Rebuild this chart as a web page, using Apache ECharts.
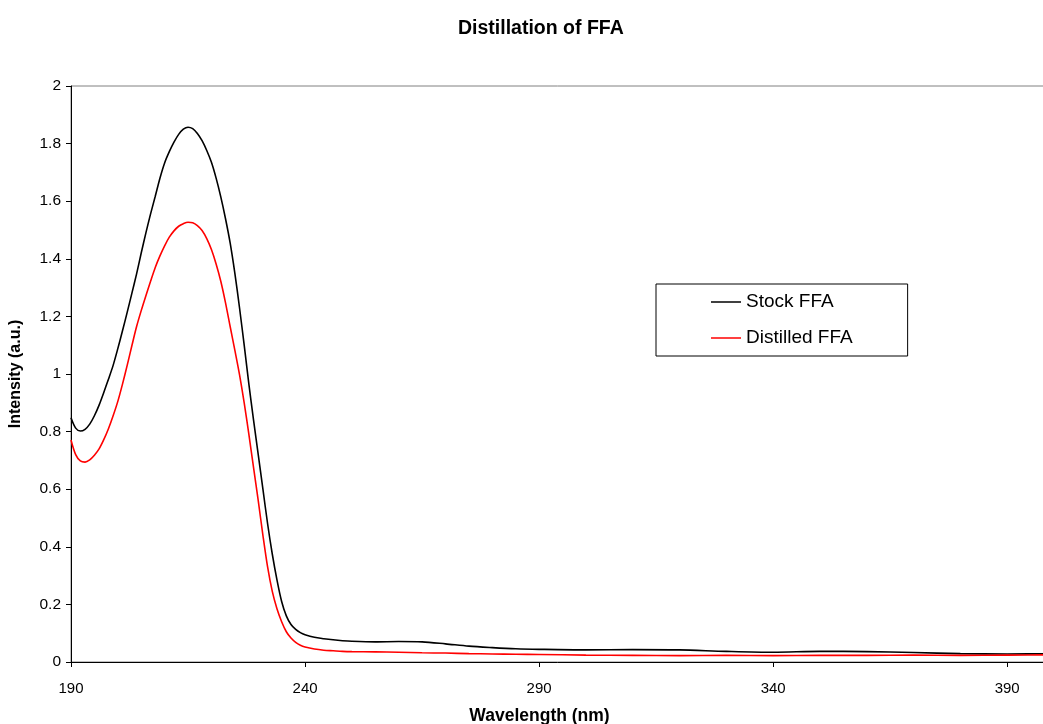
<!DOCTYPE html>
<html>
<head>
<meta charset="utf-8">
<title>Distillation of FFA</title>
<script src="https://cdn.jsdelivr.net/npm/echarts@6/dist/echarts.min.js"></script>
<style>
  html, body { margin: 0; padding: 0; background: #fff; }
  #chart { width: 1043px; height: 724px; }
</style>
</head>
<body>
<div id="chart"></div>
<script>
// wavelength (nm)
var wavelength = [190, 191, 192, 193, 194, 195, 196, 197, 198, 199, 200, 201, 202, 203, 204, 205, 206, 207, 208, 209,
    210, 211, 212, 213, 214, 215, 216, 217, 218, 219, 220, 221, 222, 223, 224, 225, 226, 227, 228, 229,
    230, 231, 232, 233, 234, 235, 236, 237, 238, 239, 240, 242, 244, 246, 248, 250, 255, 260, 265, 270,
    275, 280, 285, 290, 300, 310, 320, 330, 340, 350, 360, 370, 380, 390, 400];

var stockFFA = [0.848, 0.812, 0.802, 0.808, 0.826, 0.855, 0.892, 0.936, 0.982, 1.03, 1.088, 1.15, 1.214, 1.28, 1.347, 1.42, 1.49, 1.556, 1.617, 1.68,
    1.733, 1.772, 1.805, 1.832, 1.85, 1.857, 1.852, 1.835, 1.81, 1.776, 1.735, 1.68, 1.615, 1.54, 1.455, 1.35, 1.23, 1.1, 0.965, 0.84,
    0.72, 0.6, 0.48, 0.375, 0.285, 0.21, 0.16, 0.13, 0.113, 0.102, 0.095, 0.086, 0.081, 0.077, 0.074, 0.072, 0.070, 0.071, 0.070, 0.063,
    0.055, 0.050, 0.046, 0.044, 0.042, 0.043, 0.042, 0.037, 0.034, 0.037, 0.036, 0.033, 0.029, 0.028, 0.029];

var distilledFFA = [0.771, 0.72, 0.698, 0.694, 0.702, 0.718, 0.74, 0.772, 0.81, 0.855, 0.905, 0.965, 1.03, 1.098, 1.164, 1.22, 1.272, 1.322, 1.37, 1.41,
    1.445, 1.475, 1.497, 1.513, 1.522, 1.527, 1.525, 1.515, 1.498, 1.47, 1.432, 1.382, 1.322, 1.248, 1.165, 1.083, 0.998, 0.9, 0.79, 0.675,
    0.56, 0.44, 0.33, 0.245, 0.185, 0.14, 0.105, 0.083, 0.068, 0.058, 0.052, 0.045, 0.041, 0.039, 0.037, 0.036, 0.035, 0.034, 0.032, 0.031,
    0.029, 0.028, 0.027, 0.026, 0.024, 0.023, 0.022, 0.023, 0.022, 0.023, 0.023, 0.024, 0.023, 0.024, 0.025];

var xTicks = [190, 240, 290, 340, 390];

function pairs(xs, ys) {
    return xs.map(function (x, i) { return [x, ys[i]]; });
}

var font = 'Liberation Sans, Arial, sans-serif';

var chart = echarts.init(document.getElementById('chart'));
chart.setOption({
    backgroundColor: '#fff',
    animation: false,
    title: {
        text: 'Distillation of FFA',
        left: 453,
        top: 14,
        textStyle: { fontFamily: font, fontSize: 19.5, fontWeight: 'bold', color: '#000' }
    },
    legend: {
        orient: 'vertical',
        left: 656,
        top: 284,
        padding: [8, 55, 8, 55],
        icon: 'rect',
        itemWidth: 30,
        itemHeight: 1.5,
        itemGap: 16,
        backgroundColor: '#fff',
        borderColor: '#000',
        borderWidth: 1,
        textStyle: { fontFamily: font, fontSize: 19, lineHeight: 20, color: '#000' },
        data: ['Stock FFA', 'Distilled FFA']
    },
    grid: {
        left: 71,
        top: 86,
        bottom: 62,
        right: -11,
        outerBoundsMode: 'none',
        show: true,
        borderColor: '#808080',
        borderWidth: 1
    },
    xAxis: {
        type: 'value',
        min: 190,
        max: 400,
        name: 'Wavelength (nm)',
        nameLocation: 'middle',
        nameGap: 45,
        nameTextStyle: { fontFamily: font, fontSize: 17.5, fontWeight: 'bold', color: '#000', padding: [0, 46, 0, 0] },
        axisLine: { lineStyle: { color: '#000', width: 1 } },
        axisTick: { show: true, length: 5, customValues: xTicks, lineStyle: { color: '#000' } },
        axisLabel: { customValues: xTicks, margin: 19, fontFamily: font, fontSize: 15, color: '#000' },
        splitLine: { show: false }
    },
    yAxis: {
        type: 'value',
        min: 0,
        max: 2,
        interval: 0.2,
        name: 'Intensity (a.u.)',
        nameLocation: 'middle',
        nameGap: 47,
        nameTextStyle: { fontFamily: font, fontSize: 16, fontWeight: 'bold', color: '#000' },
        axisLine: { show: true, lineStyle: { color: '#000', width: 1 } },
        axisTick: { show: true, length: 5, lineStyle: { color: '#000' } },
        axisLabel: { margin: 10, fontFamily: font, fontSize: 15.5, color: '#000' },
        splitLine: { show: false }
    },
    series: [
        {
            name: 'Stock FFA',
            type: 'line',
            data: pairs(wavelength, stockFFA),
            smooth: 0.3,
            symbol: 'none',
            lineStyle: { color: '#000', width: 1.6 },
            itemStyle: { color: '#000' }
        },
        {
            name: 'Distilled FFA',
            type: 'line',
            data: pairs(wavelength, distilledFFA),
            smooth: 0.3,
            symbol: 'none',
            lineStyle: { color: '#ff0000', width: 1.6 },
            itemStyle: { color: '#ff0000' }
        }
    ]
});
</script>
</body>
</html>
